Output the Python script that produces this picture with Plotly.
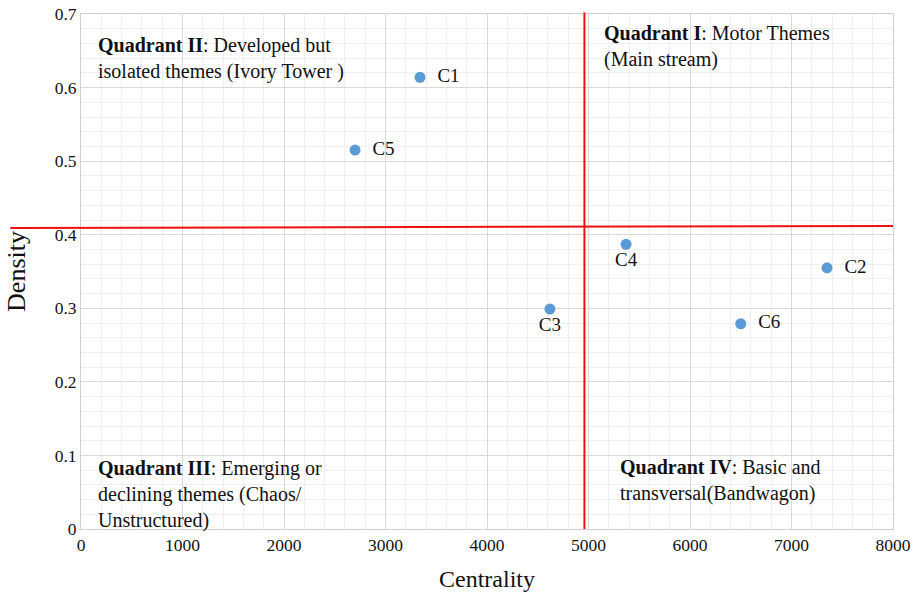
import plotly.graph_objects as go

labels = ["C1", "C2", "C3", "C4", "C5", "C6"]
centrality = [3340, 7350, 4620, 5370, 2700, 6500]
density = [0.614, 0.355, 0.299, 0.387, 0.515, 0.279]
label_pos = ["middle right", "middle right", "bottom center", "bottom center", "middle right", "middle right"]

split_x = 4960
split_y = 0.411

quad_texts = [
    "<b>Quadrant II</b>: Developed but<br>isolated themes (Ivory Tower )",
    "<b>Quadrant I</b>: Motor Themes<br>(Main stream)",
    "<b>Quadrant III</b>: Emerging or<br>declining themes (Chaos/<br>Unstructured)",
    "<b>Quadrant IV</b>: Basic and<br>transversal(Bandwagon)",
]
quad_x = [0.018, 0.642, 0.018, 0.661]
quad_y = [0.966, 0.989, 0.144, 0.146]

font = "Liberation Serif, Times New Roman, serif"

fig = go.Figure()
fig.add_trace(go.Scatter(
    x=centrality, y=density, mode="markers+text",
    text=["  " + l if "right" in p else l for l, p in zip(labels, label_pos)],
    textposition=label_pos,
    textfont=dict(family=font, size=19, color="#111111"),
    marker=dict(size=11, color="#5B9BD5"),
    showlegend=False, cliponaxis=False,
))

fig.add_shape(type="line", xref="x", yref="paper", x0=split_x, x1=split_x, y0=0, y1=1.003,
              line=dict(color="#EE1111", width=2))
fig.add_shape(type="line", xref="paper", yref="y", x0=-0.087, x1=1.0, y0=split_y - 0.002, y1=split_y + 0.001,
              line=dict(color="#EE1111", width=2))

for t, x, y in zip(quad_texts, quad_x, quad_y):
    fig.add_annotation(text=t, x=x, y=y, xref="paper", yref="paper", xanchor="left", yanchor="top",
                       align="left", showarrow=False, font=dict(family=font, size=20, color="#111111"))

grid_major = "#D9D9D9"
grid_minor = "#EFEFEF"
fig.update_xaxes(range=[0, 8000], dtick=1000, tickformat="d", showgrid=True, gridcolor=grid_major,
                 minor=dict(dtick=200, showgrid=True, gridcolor=grid_minor),
                 showline=True, linecolor="#D0D0D0", mirror=True, zeroline=False, ticks="",
                 automargin=False, ticklabeloverflow="allow",
                 tickfont=dict(family=font, size=17.5, color="#111111"),
                 title=dict(text="Centrality", font=dict(family=font, size=24, color="#111111"), standoff=20))
fig.update_yaxes(range=[0, 0.7], dtick=0.1, showgrid=True, gridcolor=grid_major,
                 minor=dict(dtick=0.02, showgrid=True, gridcolor=grid_minor),
                 showline=True, linecolor="#D0D0D0", mirror=True, zeroline=False, ticks="",
                 automargin=False, ticklabeloverflow="allow",
                 tickfont=dict(family=font, size=17.5, color="#111111"),
                 title=dict(text="Density", font=dict(family=font, size=26, color="#111111"), standoff=21))
fig.update_layout(width=918, height=592, margin=dict(l=81, r=25, t=14, b=63),
                  plot_bgcolor="white", paper_bgcolor="white")
# remove the page's default 8px body margin so the 918x592 figure fills the window
fig.write_html("out.html", config={"displayModeBar": False},
               post_script="document.body.style.margin='0px';")
